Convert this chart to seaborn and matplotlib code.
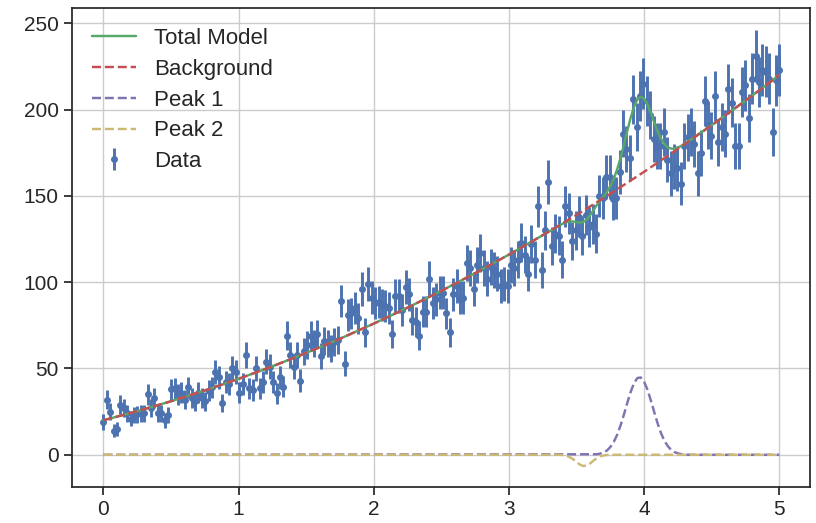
import numpy as np
import matplotlib
matplotlib.use("Agg")
import matplotlib.pyplot as plt
import seaborn as sns

# ---------------- data ----------------
x_start, x_stop, n_points = 0.0, 5.0, 200

counts = [
    19, 32, 25, 14, 15, 29, 27, 24, 21, 23,
    23.5, 24, 24, 35, 27, 33, 24, 24, 20, 23,
    38, 38.5, 35, 36, 32, 39, 33, 31, 36, 33,
    31, 37, 39, 48, 45, 30, 42, 41, 50, 48,
    36, 41, 58, 38.5, 37.5, 50, 38.5, 42, 54, 51,
    42, 35.6, 45, 39.5, 69, 58, 51, 58, 43, 60,
    63.5, 69, 64.5, 70, 57, 66, 64.5, 61.6, 65.4, 66.4,
    89, 52.8, 81, 82, 85, 79, 96, 71, 99, 91,
    88, 88.5, 86.6, 86.2, 85, 70, 92, 92, 84, 97,
    93, 78, 77, 69, 83, 83, 102, 88, 90, 94,
    94, 82, 71, 93, 98, 91, 91, 111, 108, 96,
    110, 117, 108, 102, 109, 107, 105, 98, 99, 98,
    110, 108, 113, 123, 116, 105, 122, 113, 144, 107,
    130, 158, 121, 128, 127, 113, 144, 140, 124, 130,
    138, 127, 139, 132, 134, 128, 150, 149, 161, 161,
    148, 149, 164, 186, 177, 172, 206, 190, 208, 215,
    205, 197, 183, 179, 179, 187, 171, 163, 167, 166,
    157, 179, 184, 187, 180, 163, 175, 205, 191, 185,
    208, 181, 190, 186, 212, 204, 179, 179, 210, 214,
    195, 218, 231, 216, 223, 222, 218, 187, 217, 223,
]

bg_x = [0, 0.25, 0.5, 0.75, 1, 1.25, 1.5, 1.75, 2, 2.25, 2.5,
        2.75, 3, 3.25, 3.5, 3.75, 4, 4.25, 4.5, 4.75, 5]
bg_y = [20, 25.25, 31, 37.25, 44, 51.25, 59, 67.25, 76, 85.25, 95,
        105.25, 116, 127.25, 139, 151.25, 164, 177.25, 191, 205.25, 220]

model_coarse_lo_x = [0, 0.25, 0.5, 0.75, 1, 1.25, 1.5, 1.75, 2, 2.25,
                     2.5, 2.75, 3, 3.25]
model_coarse_lo_y = [20, 25.25, 31, 37.25, 44, 51.25, 59, 67.25, 76,
                     85.25, 95, 105.25, 116, 127.25]
model_fine_y = [134.0, 134.8, 135.2, 135.2, 134.8, 134.5, 134.9, 136.4,
                138.8, 141.7, 144.7, 147.3, 149.7, 152.4, 155.8, 159.9,
                165.3, 171.9, 179.5, 187.6, 195.2, 201.6, 205.9, 207.5,
                206.3, 202.9, 198.0, 192.5, 187.3, 183.1, 180.0, 178.2,
                177.4, 177.4, 178.1, 179.0, 180.2]
model_coarse_hi_x = [4.5, 4.75, 5]
model_coarse_hi_y = [191, 205.25, 220]

peak1_fine_y = [0.3, 0.7, 1.3, 2.5, 4.5, 7.4, 11.5, 16.9, 23.2, 30.0,
                36.4, 41.5, 44.5, 44.8, 42.3, 37.6, 31.4, 24.6, 18.1,
                12.5, 8.1, 5.0, 2.8, 1.5, 0.8, 0.4, 0.2]
peak2_fine_y = [-0.2, -0.6, -1.4, -2.6, -4.2, -5.7, -6.5, -6.2, -5.0,
                -3.4, -1.9, -0.9, -0.4, -0.1]

x_ticks = [0, 1, 2, 3, 4, 5]
y_ticks = [0, 50, 100, 150, 200, 250]
labels = ["Total Model", "Background", "Peak 1", "Peak 2", "Data"]
colors = ["#55A868", "#C44E52", "#8172B2", "#CCB974", "#4C72B0"]

# ---------------- build series ----------------
data_x = np.linspace(x_start, x_stop, n_points)
counts = np.array(counts, dtype=float)
errors = np.sqrt(counts)

model_fine_x = list(np.linspace(3.40, 4.30, len(model_fine_y)))
model_x = model_coarse_lo_x + model_fine_x + model_coarse_hi_x
model_y = model_coarse_lo_y + model_fine_y + model_coarse_hi_y

p1_fine_x = list(np.linspace(3.65, 4.30, len(peak1_fine_y)))
peak1_x = [0] + p1_fine_x + [4.325, 5]
peak1_y = [0] + peak1_fine_y + [0, 0]

p2_fine_x = list(np.linspace(3.40, 3.725, len(peak2_fine_y)))
peak2_x = [0, 3.375] + p2_fine_x + [3.75, 5]
peak2_y = [0, 0] + peak2_fine_y + [0, 0]

# ---------------- style ----------------
sns.set_theme(context="notebook", style="ticks", rc={"axes.grid": True})
plt.rcParams['font.family'] = ['Liberation Sans', 'DejaVu Sans']
plt.rcParams['xtick.labelsize'] = 15
plt.rcParams['ytick.labelsize'] = 15
plt.rcParams['legend.fontsize'] = 16

fig = plt.figure(figsize=(8.16, 5.23), dpi=100)
ax = fig.add_axes([0.0879, 0.0694, 0.9048, 0.9153])

ax.errorbar(data_x, counts, yerr=errors, fmt='o', color=colors[4],
            ms=4, elinewidth=2.1, capsize=0, label=labels[4], zorder=2)

lw = 1.75
sns.lineplot(x=model_x, y=model_y, ax=ax, color=colors[0], lw=lw,
             label=labels[0], sort=False, estimator=None, zorder=3)
sns.lineplot(x=bg_x, y=bg_y, ax=ax, color=colors[1], lw=lw, linestyle='--',
             label=labels[1], sort=False, estimator=None, zorder=3)
sns.lineplot(x=peak1_x, y=peak1_y, ax=ax, color=colors[2], lw=lw,
             linestyle='--', label=labels[2], sort=False, estimator=None,
             zorder=3)
sns.lineplot(x=peak2_x, y=peak2_y, ax=ax, color=colors[3], lw=lw,
             linestyle='--', label=labels[3], sort=False, estimator=None,
             zorder=3)

ax.set_xticks(x_ticks)
ax.set_yticks(y_ticks)
ax.set_xlim(-0.234, 5.227)
ax.set_ylim(-18.5, 258.9)
ax.legend(loc="upper left", frameon=False, labelspacing=0.44)

fig.savefig("out.png", dpi=100)
